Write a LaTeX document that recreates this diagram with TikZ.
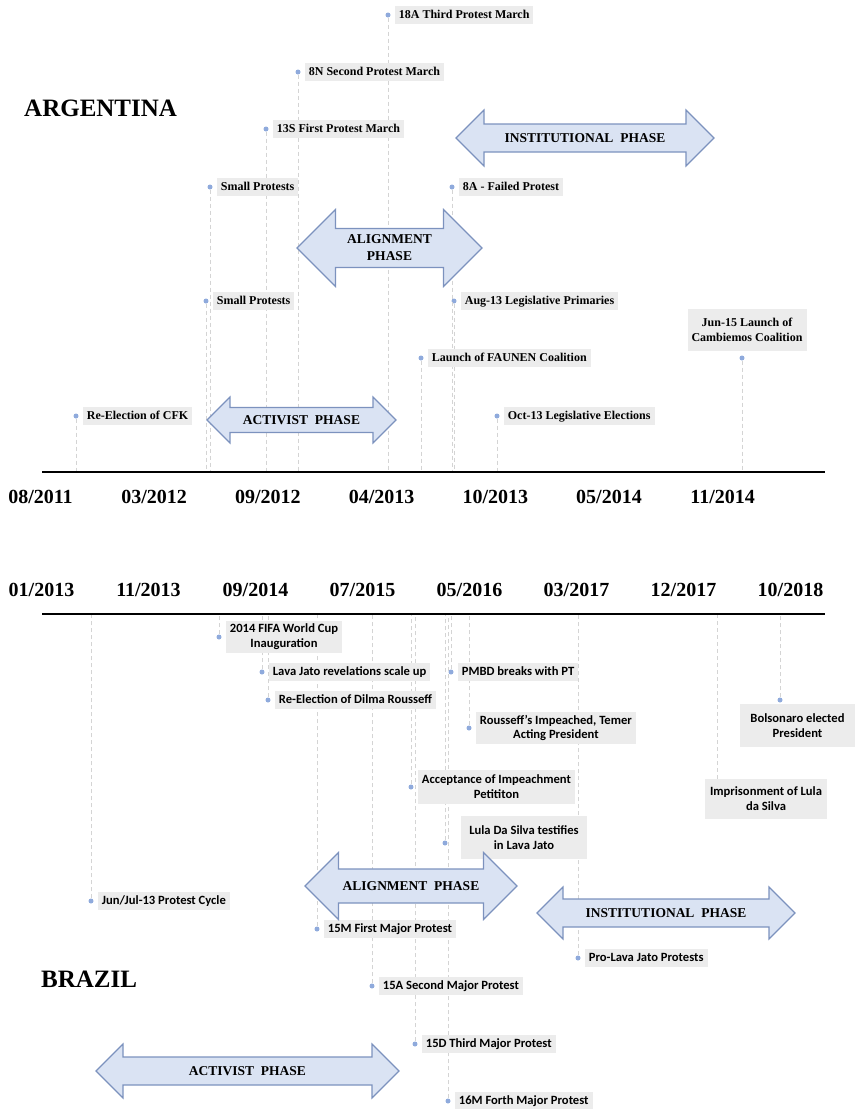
\documentclass[tikz,border=0pt]{standalone}
\usepackage{fontspec}
\setmainfont{Liberation Serif}
\newfontfamily\brfont{Carlito}
\usetikzlibrary{positioning}

\definecolor{dotblue}{RGB}{143,170,220}
\definecolor{boxgray}{RGB}{236,236,236}
\definecolor{guidegray}{RGB}{212,212,212}
\definecolor{phasefill}{RGB}{218,227,243}
\definecolor{phaseedge}{RGB}{124,146,190}

\tikzset{
  evdot/.style={circle, fill=dotblue, inner sep=0pt, minimum size=5pt},
  guide/.style={draw=guidegray, dash pattern=on 4pt off 3pt, line width=0.8pt},
  boxA/.style={fill=boxgray, font=\bfseries\fontsize{12}{14.5}\selectfont, inner xsep=4pt, inner ysep=3pt},
  evA/.style={boxA, text height=9pt, text depth=2.5pt},
  evAtwo/.style={boxA, align=center},
  boxB/.style={fill=boxgray, font=\brfont\bfseries\fontsize{12.6}{14.8}\selectfont, inner xsep=4pt, inner ysep=3pt},
  evB/.style={boxB, text height=9pt, text depth=2.5pt},
  evBtwo/.style={boxB, align=center},
  datelbl/.style={font=\bfseries\fontsize{20}{24}\selectfont, inner sep=0pt},
  title/.style={font=\bfseries\fontsize{25}{30}\selectfont, inner sep=0pt, anchor=west},
  axisline/.style={line width=2pt},
  phasebody/.style={fill=phasefill, draw=phaseedge, line width=1.2pt, line join=miter},
  phasetext/.style={font=\bfseries\fontsize{13.5}{17}\selectfont, align=center, inner sep=0pt},
}

\newcommand{\phasearrow}[7]{%
  \draw[phasebody] (#2,#4) -- ({#2+#6},{#4-#6}) -- ({#2+#6},{#4-#5}) -- ({#3-#6},{#4-#5})
    -- ({#3-#6},{#4-#6}) -- (#3,#4) -- ({#3-#6},{#4+#6}) -- ({#3-#6},{#4+#5})
    -- ({#2+#6},{#4+#5}) -- ({#2+#6},{#4+#6}) -- cycle;
  \node[phasetext] (#1) at ({(#2+#3)/2},#4) {#7};}

\begin{document}
\begin{tikzpicture}[x=1pt, y=-1pt, node distance=4pt]
\useasboundingbox (0,0) rectangle (855,1109);

\coordinate (axA) at (42,472);
\coordinate (axAend) at (825,472);
\coordinate (axB) at (42,614);
\coordinate (axBend) at (825,614);

\node[evdot] (cfk) at (76,416) {};
\node[evdot] (smallhi) at (210,187) {};
\node[evdot] (smalllo) at (206,301) {};
\node[evdot] (march13s) at (266,129) {};
\node[evdot] (march8n) at (298,72) {};
\node[evdot] (march18a) at (388,15) {};
\node[evdot] (failed8a) at (452,187) {};
\node[evdot] (primaries) at (454,301) {};
\node[evdot] (faunen) at (421,358) {};
\node[evdot] (elections) at (497,416) {};
\node[evdot] (cambiemos) at (742,358) {};

\node[evdot] (fifa) at (219,637) {};
\node[evdot] (lavajato) at (262,672) {};
\node[evdot] (dilma) at (268,700) {};
\node[evdot] (pmbd) at (451,672) {};
\node[evdot] (impeached) at (469,728) {};
\node[evdot] (acceptance) at (411,787) {};
\node[evdot] (testifies) at (445,843) {};
\node[evdot] (bolsonaro) at (780,700) {};
\node[evdot] (junjul) at (91,901) {};
\node[evdot] (major15m) at (317,929) {};
\node[evdot] (major15a) at (372,986) {};
\node[evdot] (major15d) at (415,1044) {};
\node[evdot] (major16m) at (448,1101) {};
\node[evdot] (prolava) at (578,958) {};

\foreach \e in {cfk,smallhi,smalllo,march13s,march8n,march18a,failed8a,primaries,faunen,elections,cambiemos}
  \draw[guide] (\e.south) -- (\e |- axA);
\foreach \e in {fifa,lavajato,dilma,pmbd,impeached,acceptance,testifies,bolsonaro,junjul,major15m,major15a,major15d,major16m,prolava}
  \draw[guide] (\e.north) -- (\e |- axB);

\node[evA, right=of cfk] (cfkl) {Re-Election of CFK};
\node[evA, right=of smallhi] (smallhil) {Small Protests};
\node[evA, right=of smalllo] (smalllol) {Small Protests};
\node[evA, right=of march13s] (march13sl) {13S First Protest March};
\node[evA, right=of march8n] (march8nl) {8N Second Protest March};
\node[evA, right=of march18a] (march18al) {18A Third Protest March};
\node[evA, right=of failed8a] (failed8al) {8A - Failed Protest};
\node[evA, right=of primaries] (primariesl) {Aug-13 Legislative Primaries};
\node[evA, right=of faunen] (faunenl) {Launch of FAUNEN Coalition};
\node[evA, right=of elections] (electionsl) {Oct-13 Legislative Elections};
\node[evAtwo, inner ysep=9pt] (cambiemosl) at (747,330) {Jun-15 Launch of\\Cambiemos Coalition};

\node[evBtwo, right=of fifa, minimum width=115pt, minimum height=30pt] (fifal) {2014 FIFA World Cup\\Inauguration};
\node[evB, right=of lavajato] (lavajatol) {Lava Jato revelations scale up};
\node[evB, right=of dilma] (dilmal) {Re-Election of Dilma Rousseff};
\node[evB, right=of pmbd] (pmbdl) {PMBD breaks with PT};
\node[evBtwo, right=of impeached, minimum width=159pt, minimum height=32pt] (impeachedl) {Rousseff’s Impeached, Temer\\Acting President};
\node[evBtwo, right=of acceptance, minimum width=154pt, minimum height=34pt] (acceptancel) {Acceptance of Impeachment\\Petititon};
\node[evBtwo, minimum width=126pt, minimum height=43pt] (testifiesl) at (524,837.5) {Lula Da Silva testifies\\in Lava Jato};
\node[evBtwo, minimum width=115pt, minimum height=43pt] (bolsonarol) at (797.5,725.5) {Bolsonaro elected\\President};
\node[evBtwo, minimum width=122pt, minimum height=40pt] (prisonl) at (766,799) {Imprisonment of Lula\\da Silva};
\node[evB, right=of junjul] (junjull) {Jun/Jul-13 Protest Cycle};
\node[evB, right=of major15m] (major15ml) {15M First Major Protest};
\node[evB, right=of major15a] (major15al) {15A Second Major Protest};
\node[evB, right=of major15d] (major15dl) {15D Third Major Protest};
\node[evB, right=of major16m] (major16ml) {16M Forth Major Protest};
\node[evB, right=of prolava] (prolaval) {Pro-Lava Jato Protests};

\coordinate (prison) at (717,614);
\draw[guide] (prison) -- (prison |- prisonl.north);

\draw[axisline] (axA) -- (axAend);
\draw[axisline] (axB) -- (axBend);

\foreach \d [count=\i from 0] in {08/2011,03/2012,09/2012,04/2013,10/2013,05/2014,11/2014}
  \node[datelbl] (dA\i) at ({40.5+113.7*\i},497) {\d};
\foreach \d [count=\i from 0] in {01/2013,11/2013,09/2014,07/2015,05/2016,03/2017,12/2017,10/2018}
  \node[datelbl] (dB\i) at ({41.5+107*\i},590) {\d};

\node[title] (argentina) at (24,108) {ARGENTINA};
\node[title] (brazil) at (41,979) {BRAZIL};

\phasearrow{instA}{456}{714}{138}{14}{28}{INSTITUTIONAL~~PHASE}
\phasearrow{alignA}{297}{482}{248}{19.5}{38.5}{ALIGNMENT\\PHASE}
\phasearrow{actA}{207}{396}{420}{12.5}{23}{ACTIVIST~~PHASE}
\phasearrow{alignB}{305}{517}{886}{17}{33.5}{ALIGNMENT~~PHASE}
\phasearrow{instB}{537}{795}{913}{14}{26}{INSTITUTIONAL~~PHASE}
\phasearrow{actB}{96}{399}{1071}{14}{27}{ACTIVIST~~PHASE}
\end{tikzpicture}
\end{document}
